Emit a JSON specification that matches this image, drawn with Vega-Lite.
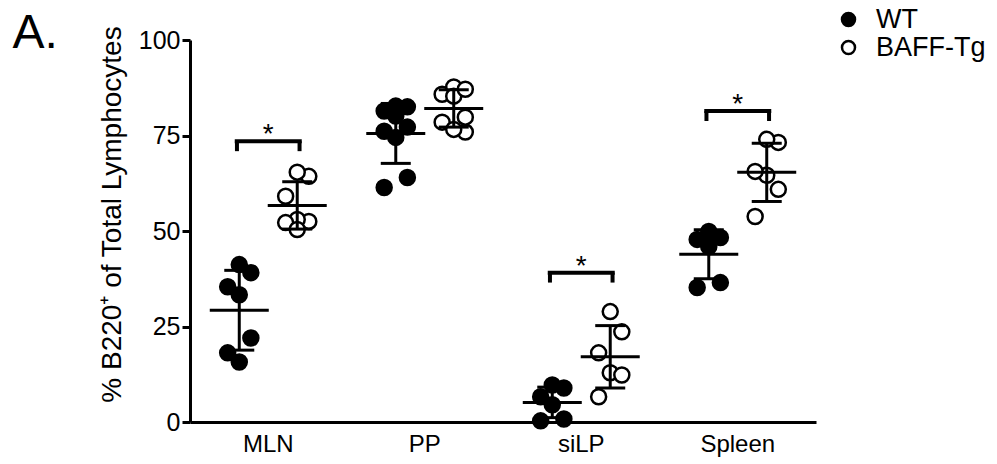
{
  "$schema": "https://vega.github.io/schema/vega-lite/v6.json",
  "width": 626,
  "height": 382,
  "autosize": "none",
  "padding": {"left": 190, "top": 40, "right": 181, "bottom": 42},
  "background": "white",
  "title": {"text": "A.", "anchor": "end", "frame": "group", "orient": "left", "angle": 0, "align": "right", "baseline": "top", "fontSize": 48, "fontWeight": "normal", "font": "Liberation Sans", "color": "black", "offset": -5, "dy": -30},
  "config": {
    "view": {"stroke": null},
    "font": "Liberation Sans",
    "axis": {"labelColor": "black", "titleColor": "black", "domainColor": "black", "tickColor": "black", "grid": false, "labelFont": "Liberation Sans", "titleFont": "Liberation Sans"}
  },
  "datasets": {
    "pts": [
      {"t": "MLN", "g": "WT", "v": 41.2}, {"t": "MLN", "g": "WT", "v": 39.1}, {"t": "MLN", "g": "WT", "v": 35.4}, {"t": "MLN", "g": "WT", "v": 33.3}, {"t": "MLN", "g": "WT", "v": 22.0}, {"t": "MLN", "g": "WT", "v": 18.1}, {"t": "MLN", "g": "WT", "v": 15.7},
      {"t": "MLN", "g": "BAFF-Tg", "v": 64.3}, {"t": "MLN", "g": "BAFF-Tg", "v": 65.4}, {"t": "MLN", "g": "BAFF-Tg", "v": 59.1}, {"t": "MLN", "g": "BAFF-Tg", "v": 52.5}, {"t": "MLN", "g": "BAFF-Tg", "v": 53.0}, {"t": "MLN", "g": "BAFF-Tg", "v": 52.2}, {"t": "MLN", "g": "BAFF-Tg", "v": 50.4},
      {"t": "PP", "g": "WT", "v": 82.7}, {"t": "PP", "g": "WT", "v": 82.5}, {"t": "PP", "g": "WT", "v": 81.4}, {"t": "PP", "g": "WT", "v": 80.1}, {"t": "PP", "g": "WT", "v": 76.1}, {"t": "PP", "g": "WT", "v": 77.2}, {"t": "PP", "g": "WT", "v": 74.5}, {"t": "PP", "g": "WT", "v": 64.0}, {"t": "PP", "g": "WT", "v": 61.4},
      {"t": "PP", "g": "BAFF-Tg", "v": 85.8}, {"t": "PP", "g": "BAFF-Tg", "v": 87.7}, {"t": "PP", "g": "BAFF-Tg", "v": 85.3}, {"t": "PP", "g": "BAFF-Tg", "v": 87.1}, {"t": "PP", "g": "BAFF-Tg", "v": 78.5}, {"t": "PP", "g": "BAFF-Tg", "v": 75.9}, {"t": "PP", "g": "BAFF-Tg", "v": 76.6}, {"t": "PP", "g": "BAFF-Tg", "v": 79.8},
      {"t": "siLP", "g": "WT", "v": 8.9}, {"t": "siLP", "g": "WT", "v": 9.7}, {"t": "siLP", "g": "WT", "v": 6.6}, {"t": "siLP", "g": "WT", "v": 4.5}, {"t": "siLP", "g": "WT", "v": 0.3}, {"t": "siLP", "g": "WT", "v": 0.8},
      {"t": "siLP", "g": "BAFF-Tg", "v": 28.9}, {"t": "siLP", "g": "BAFF-Tg", "v": 23.6}, {"t": "siLP", "g": "BAFF-Tg", "v": 18.1}, {"t": "siLP", "g": "BAFF-Tg", "v": 12.9}, {"t": "siLP", "g": "BAFF-Tg", "v": 12.3}, {"t": "siLP", "g": "BAFF-Tg", "v": 6.6},
      {"t": "Spleen", "g": "WT", "v": 47.8}, {"t": "Spleen", "g": "WT", "v": 49.9}, {"t": "Spleen", "g": "WT", "v": 48.3}, {"t": "Spleen", "g": "WT", "v": 45.9}, {"t": "Spleen", "g": "WT", "v": 35.2}, {"t": "Spleen", "g": "WT", "v": 36.5},
      {"t": "Spleen", "g": "BAFF-Tg", "v": 73.2}, {"t": "Spleen", "g": "BAFF-Tg", "v": 74.0}, {"t": "Spleen", "g": "BAFF-Tg", "v": 64.6}, {"t": "Spleen", "g": "BAFF-Tg", "v": 65.6}, {"t": "Spleen", "g": "BAFF-Tg", "v": 60.9}, {"t": "Spleen", "g": "BAFF-Tg", "v": 53.8}
    ],
    "sig": [
      {"t": "MLN", "y": 73.5},
      {"t": "siLP", "y": 39.1},
      {"t": "Spleen", "y": 81.4}
    ]
  },
  "encoding": {
    "x": {"field": "t", "type": "nominal", "sort": ["MLN", "PP", "siLP", "Spleen"], "scale": {"paddingInner": 0, "paddingOuter": 0}, "axis": {"title": null, "ticks": false, "domainWidth": 3, "labelFontSize": 24, "labelPadding": 10, "labelAngle": 0}},
    "y": {"type": "quantitative", "scale": {"domain": [0, 100], "nice": false}, "axis": {"values": [0, 25, 50, 75, 100], "title": "% B220⁺ of Total  Lymphocytes", "titleFontSize": 28, "titleFontWeight": "normal", "titlePadding": 12, "titleY": 174, "labelFontSize": 25, "labelPadding": 2, "domainWidth": 3, "tickWidth": 3, "tickSize": 8}}
  },
  "layer": [
    {
      "data": {"name": "pts"},
      "transform": [
        {"window": [{"op": "row_number", "as": "r"}], "groupby": ["t", "g"], "sort": [{"field": "v", "order": "descending"}]},
        {"calculate": "(datum.g == 'WT' ? -1 : 1) + ((datum.r % 3) - 1) * 0.4", "as": "xo"}
      ],
      "mark": {"type": "point", "shape": "circle", "filled": true, "size": 225, "stroke": "black", "strokeWidth": 2.5, "opacity": 1},
      "encoding": {
        "xOffset": {"field": "xo", "type": "quantitative", "scale": {"domain": [-2.7, 2.7]}},
        "y": {"field": "v", "type": "quantitative"},
        "fill": {"field": "g", "type": "nominal", "scale": {"domain": ["WT", "BAFF-Tg"], "range": ["black", "white"]}, "legend": {"title": null, "orient": "none", "legendX": 645, "legendY": -34, "labelFontSize": 27, "labelFont": "Liberation Sans", "labelColor": "black", "symbolSize": 170, "symbolStrokeColor": "black", "symbolStrokeWidth": 2.5, "symbolType": "circle", "rowPadding": 0, "labelOffset": 14}}
      }
    },
    {
      "data": {"name": "pts"},
      "transform": [
        {"aggregate": [{"op": "mean", "field": "v", "as": "m"}, {"op": "stdev", "field": "v", "as": "s"}], "groupby": ["t", "g"]},
        {"calculate": "datum.m - datum.s", "as": "lo"},
        {"calculate": "datum.m + datum.s", "as": "hi"},
        {"calculate": "datum.g == 'WT' ? -1 : 1", "as": "xo"}
      ],
      "encoding": {
        "xOffset": {"field": "xo", "type": "quantitative"}
      },
      "layer": [
        {"mark": {"type": "rule", "color": "black", "strokeWidth": 3, "opacity": 1}, "encoding": {"y": {"field": "lo", "type": "quantitative"}, "y2": {"field": "hi"}}},
        {"mark": {"type": "tick", "color": "black", "opacity": 1, "size": 59, "thickness": 3, "orient": "horizontal"}, "encoding": {"y": {"field": "m", "type": "quantitative"}}},
        {"mark": {"type": "tick", "color": "black", "opacity": 1, "size": 30, "thickness": 3, "orient": "horizontal"}, "encoding": {"y": {"field": "lo", "type": "quantitative"}}},
        {"mark": {"type": "tick", "color": "black", "opacity": 1, "size": 30, "thickness": 3, "orient": "horizontal"}, "encoding": {"y": {"field": "hi", "type": "quantitative"}}}
      ]
    },
    {
      "data": {"name": "sig"},
      "transform": [{"calculate": "datum.y - 2.6", "as": "yl"}],
      "layer": [
        {"mark": {"type": "tick", "color": "black", "opacity": 1, "size": 67, "thickness": 4, "orient": "horizontal"}, "encoding": {"y": {"field": "y", "type": "quantitative"}}},
        {"mark": {"type": "rule", "color": "black", "strokeWidth": 4}, "encoding": {"xOffset": {"datum": -1.08, "type": "quantitative"}, "y": {"field": "y", "type": "quantitative"}, "y2": {"field": "yl"}}},
        {"mark": {"type": "rule", "color": "black", "strokeWidth": 4}, "encoding": {"xOffset": {"datum": 1.08, "type": "quantitative"}, "y": {"field": "y", "type": "quantitative"}, "y2": {"field": "yl"}}},
        {"mark": {"type": "text", "text": "*", "fontSize": 28, "font": "Liberation Sans", "color": "black", "baseline": "alphabetic", "align": "center", "dy": 2}, "encoding": {"y": {"field": "y", "type": "quantitative"}}}
      ]
    }
  ]
}
